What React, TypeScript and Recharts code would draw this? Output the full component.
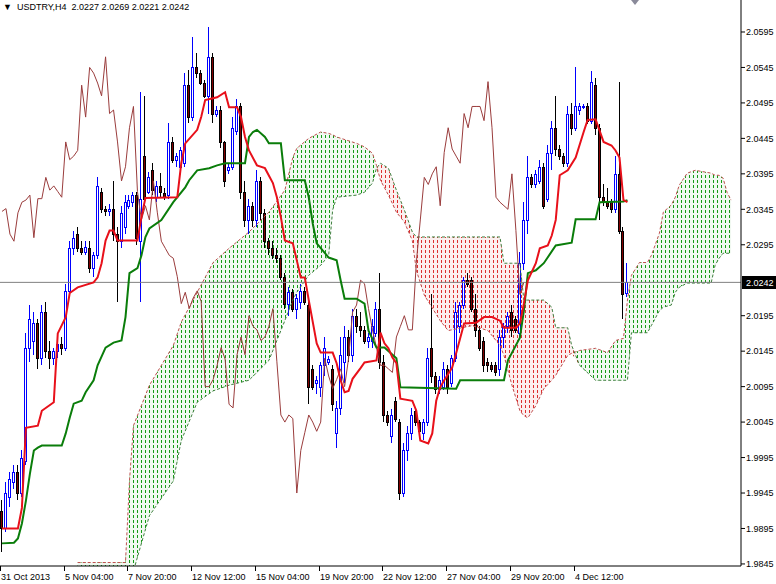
import React from 'react';
import { ComposedChart, Bar, Line, Area, XAxis, YAxis, ReferenceLine } from 'recharts';

// H4 candles, oldest first (31 Oct 2013 -> 5 Dec 2013)
const opens = [
  1.9920, 1.9895, 1.9940, 1.9960, 1.9975, 1.9945, 1.9990, 2.0150, 2.0160, 2.0185,
  2.0135, 2.0200, 2.0145, 2.0135, 2.0145, 2.0155, 2.0150, 2.0230, 2.0290, 2.0310,
  2.0290, 2.0285, 2.0290, 2.0262, 2.0280, 2.0370, 2.0345, 2.0342, 2.0346, 2.0310,
  2.0300, 2.0320, 2.0350, 2.0355, 2.0365, 2.0300, 2.0420, 2.0370, 2.0400, 2.0362,
  2.0378, 2.0368, 2.0365, 2.0440, 2.0415, 2.0405, 2.0410, 2.0520, 2.0475, 2.0545,
  2.0537, 2.0523, 2.0505, 2.0560, 2.0480, 2.0485, 2.0440, 2.0400, 2.0405, 2.0455,
  2.0490, 2.0370, 2.0330, 2.0350, 2.0330, 2.0385, 2.0340, 2.0300, 2.0290, 2.0280,
  2.0276, 2.0250, 2.0212, 2.0228, 2.0205, 2.0215, 2.0230, 2.0210, 2.0120, 2.0100,
  2.0095, 2.0125, 2.0130, 2.0120, 2.0030, 2.0065, 2.0130, 2.0165, 2.0140, 2.0195,
  2.0180, 2.0175, 2.0160, 2.0160, 2.0170, 2.0205, 2.0130, 2.0055, 2.0025, 2.0075,
  2.0045, 1.9945, 2.0005, 2.0030, 2.0060, 2.0045, 2.0030, 2.0045, 2.0150, 2.0110,
  2.0092, 2.0095, 2.0120, 2.0100, 2.0135, 2.0180, 2.0210, 2.0245, 2.0245, 2.0205,
  2.0175, 2.0160, 2.0130, 2.0125, 2.0125, 2.0120, 2.0165, 2.0180, 2.0200, 2.0190,
  2.0170, 2.0270, 2.0330, 2.0390, 2.0380, 2.0385, 2.0405, 2.0360, 2.0425, 2.0460,
  2.0430, 2.0420, 2.0410, 2.0480, 2.0460, 2.0485, 2.0490, 2.0490, 2.0470, 2.0520,
  2.0460, 2.0362, 2.0355, 2.0355, 2.0345, 2.0395, 2.0315, 2.0227,
];
const highs = [
  1.9935, 1.9960, 1.9975, 1.9985, 1.9985, 2.0005, 2.0170, 2.0210, 2.0200, 2.0190,
  2.0210, 2.0215, 2.0160, 2.0150, 2.0165, 2.0165, 2.0240, 2.0300, 2.0315, 2.0320,
  2.0300, 2.0300, 2.0300, 2.0285, 2.0390, 2.0375, 2.0350, 2.0352, 2.0385, 2.0320,
  2.0350, 2.0365, 2.0365, 2.0370, 2.0370, 2.0510, 2.0505, 2.0398, 2.0410, 2.0385,
  2.0396, 2.0375, 2.0466, 2.0447, 2.0425, 2.0433, 2.0537, 2.0541, 2.0588, 2.0565,
  2.0541, 2.0528, 2.0602, 2.0565, 2.0490, 2.0490, 2.0442, 2.0410, 2.0475, 2.0500,
  2.0495, 2.0385, 2.0360, 2.0355, 2.0400, 2.0390, 2.0345, 2.0305, 2.0300, 2.0290,
  2.0280, 2.0255, 2.0235, 2.0232, 2.0225, 2.0240, 2.0235, 2.0215, 2.0125, 2.0110,
  2.0130, 2.0165, 2.0138, 2.0125, 2.0075, 2.0165, 2.0180, 2.0175, 2.0205, 2.0205,
  2.0200, 2.0180, 2.0170, 2.0190, 2.0215, 2.0255, 2.0140, 2.0060, 2.0063, 2.0080,
  2.0050, 2.0015, 2.0040, 2.0065, 2.0065, 2.0048, 2.0050, 2.0150, 2.0225, 2.0115,
  2.0110, 2.0130, 2.0125, 2.0140, 2.0215, 2.0215, 2.0250, 2.0255, 2.0250, 2.0225,
  2.0180, 2.0165, 2.0135, 2.0130, 2.0130, 2.0175, 2.0185, 2.0200, 2.0210, 2.0195,
  2.0285, 2.0355, 2.0420, 2.0395, 2.0400, 2.0415, 2.0410, 2.0435, 2.0470, 2.0505,
  2.0435, 2.0425, 2.0490, 2.0495, 2.0545, 2.0495, 2.0493, 2.0495, 2.0540, 2.0530,
  2.0465, 2.0380, 2.0375, 2.0360, 2.0420, 2.0525, 2.0320, 2.0269,
];
const lows = [
  1.9862, 1.9890, 1.9925, 1.9950, 1.9935, 1.9940, 1.9985, 2.0130, 2.0140, 2.0120,
  2.0125, 2.0135, 2.0120, 2.0125, 2.0135, 2.0140, 2.0145, 2.0220, 2.0280, 2.0285,
  2.0280, 2.0280, 2.0255, 2.0250, 2.0275, 2.0340, 2.0335, 2.0335, 2.0300, 2.0215,
  2.0290, 2.0310, 2.0345, 2.0348, 2.0295, 2.0215, 2.0350, 2.0366, 2.0365, 2.0355,
  2.0362, 2.0358, 2.0360, 2.0410, 2.0405, 2.0400, 2.0405, 2.0466, 2.0470, 2.0530,
  2.0520, 2.0502, 2.0480, 2.0466, 2.0475, 2.0432, 2.0376, 2.0395, 2.0400, 2.0450,
  2.0360, 2.0320, 2.0310, 2.0320, 2.0320, 2.0330, 2.0290, 2.0280, 2.0275, 2.0270,
  2.0245, 2.0205, 2.0195, 2.0200, 2.0190, 2.0205, 2.0210, 2.0070, 2.0090, 2.0085,
  2.0080, 2.0110, 2.0126, 2.0060, 2.0008, 2.0055, 2.0100, 2.0130, 2.0130, 2.0170,
  2.0165, 2.0155, 2.0150, 2.0150, 2.0165, 2.0120, 2.0045, 2.0040, 2.0015, 2.0045,
  1.9935, 1.9940, 1.9990, 2.0020, 2.0040, 2.0028, 2.0020, 2.0040, 2.0100, 2.0085,
  2.0085, 2.0090, 2.0085, 2.0095, 2.0130, 2.0170, 2.0205, 2.0235, 2.0200, 2.0165,
  2.0145, 2.0115, 2.0115, 2.0115, 2.0110, 2.0110, 2.0150, 2.0170, 2.0165, 2.0170,
  2.0165, 2.0260, 2.0310, 2.0375, 2.0375, 2.0380, 2.0345, 2.0355, 2.0400, 2.0420,
  2.0415, 2.0405, 2.0405, 2.0450, 2.0455, 2.0478, 2.0487, 2.0465, 2.0465, 2.0450,
  2.0330, 2.0350, 2.0345, 2.0340, 2.0340, 2.0310, 2.0190, 2.0221,
];
const closes = [
  1.9895, 1.9945, 1.9965, 1.9975, 1.9945, 1.9995, 2.0150, 2.0190, 2.0185, 2.0135,
  2.0200, 2.0145, 2.0135, 2.0145, 2.0155, 2.0150, 2.0230, 2.0290, 2.0305, 2.0290,
  2.0285, 2.0292, 2.0262, 2.0280, 2.0378, 2.0345, 2.0342, 2.0346, 2.0310, 2.0300,
  2.0340, 2.0355, 2.0358, 2.0365, 2.0305, 2.0360, 2.0360, 2.0390, 2.0372, 2.0378,
  2.0370, 2.0362, 2.0440, 2.0415, 2.0420, 2.0428, 2.0520, 2.0475, 2.0545, 2.0537,
  2.0523, 2.0505, 2.0560, 2.0480, 2.0485, 2.0440, 2.0385, 2.0405, 2.0460, 2.0490,
  2.0370, 2.0330, 2.0350, 2.0330, 2.0385, 2.0340, 2.0300, 2.0290, 2.0280, 2.0276,
  2.0250, 2.0212, 2.0228, 2.0205, 2.0220, 2.0230, 2.0215, 2.0095, 2.0095, 2.0105,
  2.0125, 2.0150, 2.0134, 2.0070, 2.0065, 2.0140, 2.0165, 2.0140, 2.0195, 2.0180,
  2.0175, 2.0160, 2.0165, 2.0180, 2.0205, 2.0130, 2.0055, 2.0045, 2.0055, 2.0050,
  1.9945, 2.0005, 2.0030, 2.0055, 2.0045, 2.0032, 2.0045, 2.0135, 2.0110, 2.0092,
  2.0105, 2.0120, 2.0095, 2.0135, 2.0200, 2.0210, 2.0245, 2.0240, 2.0205, 2.0175,
  2.0150, 2.0125, 2.0125, 2.0120, 2.0115, 2.0165, 2.0180, 2.0195, 2.0175, 2.0175,
  2.0270, 2.0330, 2.0390, 2.0380, 2.0395, 2.0405, 2.0350, 2.0425, 2.0460, 2.0430,
  2.0420, 2.0410, 2.0480, 2.0460, 2.0490, 2.0490, 2.0490, 2.0470, 2.0525, 2.0460,
  2.0362, 2.0355, 2.0350, 2.0345, 2.0395, 2.0315, 2.0225, 2.0242,
];

// Tenkan-sen / Kijun-sen turning points: [bar, price]
const tenkan = [
  [0, 1.9895], [4, 1.9895], [5, 1.9924], [6, 2.0037], [9, 2.0040], [10, 2.0061], [13, 2.0073],
  [14, 2.0170], [16, 2.0193], [17, 2.0227], [19, 2.0235], [23, 2.0242], [24, 2.0249], [25, 2.0269],
  [26, 2.0301], [27, 2.0315], [28, 2.0315], [29, 2.0301], [34, 2.0301], [35, 2.0334], [36, 2.0361],
  [44, 2.0362], [45, 2.0410], [46, 2.0438], [49, 2.0457], [50, 2.0475], [51, 2.0499], [54, 2.0503],
  [56, 2.0510], [57, 2.0489], [59, 2.0489], [60, 2.0475], [61, 2.0447], [62, 2.0428], [64, 2.0407],
  [66, 2.0403], [68, 2.0382], [69, 2.0362], [70, 2.0334], [71, 2.0301], [73, 2.0297], [74, 2.0273],
  [75, 2.0249], [76, 2.0249], [77, 2.0217], [79, 2.0156], [80, 2.0143], [83, 2.0143], [84, 2.0128],
  [85, 2.0104], [86, 2.0087], [87, 2.0089], [88, 2.0106], [90, 2.0121], [91, 2.0129], [94, 2.0132],
  [95, 2.0171], [96, 2.0156], [97, 2.0149], [98, 2.0136], [99, 2.0128], [100, 2.0078], [103, 2.0075],
  [104, 2.0061], [105, 2.0019], [107, 2.0015], [108, 2.0029], [109, 2.0075], [110, 2.0094],
  [111, 2.0104], [113, 2.0122], [114, 2.0142], [116, 2.0184], [119, 2.0185], [121, 2.0193],
  [123, 2.0193], [125, 2.0188], [126, 2.0178], [129, 2.0178], [130, 2.0184], [131, 2.0212],
  [132, 2.0245], [134, 2.0269], [135, 2.0290], [137, 2.0294], [138, 2.0308], [139, 2.0330],
  [140, 2.0393], [142, 2.0400], [144, 2.0418], [146, 2.0454], [147, 2.0471], [149, 2.0472],
  [151, 2.0440], [153, 2.0435], [154, 2.0428], [155, 2.0418], [156, 2.0358], [157, 2.0355],
];
const kijun = [
  [0, 1.9874], [3, 1.9875], [4, 1.9881], [5, 1.9902], [6, 1.9934], [7, 1.9972], [8, 2.0005],
  [9, 2.0009], [10, 2.0012], [15, 2.0012], [16, 2.0029], [17, 2.0051], [18, 2.0071], [20, 2.0075],
  [21, 2.0087], [23, 2.0104], [24, 2.0125], [26, 2.0150], [28, 2.0157], [30, 2.0160], [31, 2.0193],
  [32, 2.0255], [34, 2.0262], [35, 2.0280], [36, 2.0306], [37, 2.0318], [40, 2.0330], [43, 2.0355],
  [46, 2.0376], [47, 2.0386], [49, 2.0400], [52, 2.0403], [54, 2.0407], [56, 2.0410], [61, 2.0410],
  [62, 2.0447], [63, 2.0454], [64, 2.0457], [66, 2.0447], [67, 2.0438], [70, 2.0438], [71, 2.0386],
  [76, 2.0386], [77, 2.0362], [78, 2.0325], [79, 2.0297], [82, 2.0277], [84, 2.0273], [85, 2.0245],
  [86, 2.0219], [89, 2.0219], [91, 2.0212], [92, 2.0174], [94, 2.0150], [96, 2.0150], [99, 2.0135],
  [100, 2.0094], [114, 2.0092], [115, 2.0104], [126, 2.0104], [127, 2.0132], [130, 2.0164],
  [131, 2.0202], [132, 2.0255], [134, 2.0259], [136, 2.0269], [139, 2.0294], [143, 2.0298],
  [144, 2.0331], [149, 2.0331], [150, 2.0355], [156, 2.0356], [157, 2.0358],
];

// Senkou span A / B (already shifted 26 bars forward): [bar, spanA, spanB]
const kumo = [
  [19, 1.9847, 1.9793], [31, 1.9847, 1.9793], [32, 1.9962, 1.9807], [33, 2.0040, 1.9835],
  [37, 2.0097, 1.9913], [43, 2.0153, 1.9962], [45, 2.0186, 2.0019], [49, 2.0228, 2.0073],
  [53, 2.0270, 2.0089], [57, 2.0290, 2.0097], [62, 2.0313, 2.0104], [67, 2.0341, 2.0132],
  [71, 2.0372, 2.0188], [73, 2.0418, 2.0217], [74, 2.0431, 2.0228], [77, 2.0445, 2.0252],
  [80, 2.0454, 2.0266], [82, 2.0452, 2.0280], [83, 2.0450, 2.0344], [84, 2.0447, 2.0362],
  [89, 2.0438, 2.0365], [91, 2.0433, 2.0369], [93, 2.0424, 2.0382], [94, 2.0407, 2.0403],
  [95, 2.0386, 2.0410], [97, 2.0365, 2.0403], [99, 2.0341, 2.0372], [101, 2.0327, 2.0344],
  [103, 2.0301, 2.0313], [104, 2.0259, 2.0306], [106, 2.0224, 2.0306], [110, 2.0188, 2.0306],
  [112, 2.0174, 2.0306], [118, 2.0181, 2.0306], [122, 2.0174, 2.0306], [125, 2.0153, 2.0306],
  [126, 2.0139, 2.0269], [128, 2.0097, 2.0269], [130, 2.0061, 2.0269], [131, 2.0054, 2.0217],
  [132, 2.0051, 2.0217], [134, 2.0068, 2.0217], [136, 2.0092, 2.0217], [138, 2.0104, 2.0207],
  [139, 2.0111, 2.0178], [142, 2.0139, 2.0178], [143, 2.0142, 2.0153], [145, 2.0146, 2.0125],
  [149, 2.0149, 2.0104], [152, 2.0143, 2.0104], [154, 2.0160, 2.0104], [156, 2.0163, 2.0104],
  [157, 2.0217, 2.0104], [158, 2.0252, 2.0171], [160, 2.0270, 2.0171], [162, 2.0270, 2.0171],
  [163, 2.0280, 2.0181], [165, 2.0311, 2.0202], [166, 2.0341, 2.0207], [168, 2.0351, 2.0210],
  [169, 2.0362, 2.0228], [170, 2.0379, 2.0235], [172, 2.0396, 2.0241], [174, 2.0400, 2.0241],
  [178, 2.0396, 2.0241], [179, 2.0393, 2.0266], [180, 2.0393, 2.0276], [181, 2.0389, 2.0283],
  [182, 2.0369, 2.0283], [183, 2.0358, 2.0283],
];

const timeLabels = [
  '31 Oct 2013', '5 Nov 04:00', '7 Nov 20:00', '12 Nov 12:00', '15 Nov 04:00',
  '19 Nov 20:00', '22 Nov 12:00', '27 Nov 04:00', '29 Nov 20:00', '4 Dec 12:00',
];
const priceTicks = [
  2.0595, 2.0545, 2.0495, 2.0445, 2.0395, 2.0345, 2.0295, 2.0195,
  2.0145, 2.0095, 2.0045, 1.9995, 1.9945, 1.9895, 1.9845,
];
const lastPrice = 2.0242;
const chikouShift = 26;
const totalBars = 186;

const data = Array.from({ length: totalBars }, (_, i) => {
  const row: any = { idx: i };
  if (i < closes.length) {
    row.o = opens[i];
    row.h = highs[i];
    row.l = lows[i];
    row.c = closes[i];
    row.candle = [lows[i], highs[i]];
  }
  if (i + chikouShift < closes.length) row.chikou = closes[i + chikouShift];
  return row;
});
tenkan.forEach(([b, v]) => { data[b].tenkan = v; });
kijun.forEach(([b, v]) => { data[b].kijun = v; });
kumo.forEach(([b, a, s]) => {
  const lo = Math.min(a, s);
  data[b].spanA = a;
  data[b].spanB = s;
  data[b].green = [lo, a];
  data[b].red = [lo, s];
});

const font = '"Liberation Sans", Arial, sans-serif';

const Candle = (props: any) => {
  const { x, y, width, height, payload } = props;
  if (!payload || payload.o == null) return null;
  const { o, h, l, c } = payload;
  const top = Math.min(y, y + height);
  const bottom = Math.max(y, y + height);
  const span = h - l || 1;
  const yOf = (v: number) => Math.round(top + ((h - v) / span) * (bottom - top));
  const cx = Math.floor(x + width / 2);
  const up = c >= o;
  const bTop = yOf(Math.max(o, c));
  const bBot = Math.max(yOf(Math.min(o, c)), bTop + 1);
  return (
    <g>
      <line x1={cx + 0.5} x2={cx + 0.5} y1={Math.round(top)} y2={Math.round(bottom)} stroke={up ? '#0000ff' : '#000000'} strokeWidth={1} />
      <rect x={cx - 0.5} y={bTop + 0.5} width={2} height={bBot - bTop} fill={up ? '#ffffff' : '#800000'} stroke={up ? '#0000ff' : '#000000'} strokeWidth={1} />
    </g>
  );
};

const TimeTick = (props: any) => {
  const { x, payload } = props;
  const label = timeLabels[Math.round(payload.value / 16)];
  if (!label) return null;
  const tx = Math.round(x - 2);
  return (
    <g>
      <line x1={tx + 0.5} x2={tx + 0.5} y1={566} y2={571} stroke="#000" />
      <text x={tx + 1} y={580} fontSize={9} fontFamily={font} fill="#000" textAnchor="start">{label}</text>
    </g>
  );
};

const PriceBox = (props: any) => {
  const { viewBox } = props;
  const yy = Math.round(viewBox.y);
  const x0 = viewBox.x + viewBox.width + 1;
  return (
    <g>
      <rect x={x0} y={yy - 6} width={35} height={13} fill="#000" />
      <text x={x0 + 4} y={yy + 4} fontSize={9} fontFamily={font} fill="#fff">{lastPrice.toFixed(4)}</text>
    </g>
  );
};

export default function App() {
  return (
    <div style={{ position: 'absolute', left: 0, top: 0, width: 776, height: 584, background: '#fff', overflow: 'hidden' }}>
      <ComposedChart width={776} height={584} data={data} margin={{ top: 0, right: 0, bottom: 0, left: 0 }} barCategoryGap={0}>
        <defs>
          <pattern id="kumoUp" x="0" y="0" width="4" height="5" patternUnits="userSpaceOnUse">
            <rect x="0" y="0" width="4" height="5" fill="#f1f9f1" />
            <rect x="1" y="0" width="1" height="3" fill="#159a15" />
          </pattern>
          <pattern id="kumoDown" x="0" y="0" width="4" height="5" patternUnits="userSpaceOnUse">
            <rect x="0" y="0" width="4" height="5" fill="#fcefef" />
            <rect x="1" y="0" width="1" height="3" fill="#dc3030" />
          </pattern>
        </defs>
        <XAxis
          dataKey="idx"
          type="category"
          interval={15}
          height={18}
          tickLine={false}
          axisLine={{ stroke: '#000' }}
          tick={<TimeTick />}
        />
        <YAxis
          orientation="right"
          domain={[1.98421, 2.06401]}
          allowDataOverflow
          ticks={priceTicks}
          width={35}
          tickSize={4}
          tickMargin={1}
          tickFormatter={(v: number) => v.toFixed(4)}
          tick={{ fontSize: 9, fontFamily: font, fill: '#000' }}
          axisLine={{ stroke: '#000' }}
          tickLine={{ stroke: '#000' }}
        />
        <Area dataKey="green" type="linear" stroke="none" fill="url(#kumoUp)" fillOpacity={1} connectNulls isAnimationActive={false} />
        <Area dataKey="red" type="linear" stroke="none" fill="url(#kumoDown)" fillOpacity={1} connectNulls isAnimationActive={false} />
        <Line dataKey="spanA" type="linear" stroke="#c05050" strokeWidth={1} strokeDasharray="3 2" dot={false} activeDot={false} connectNulls isAnimationActive={false} />
        <Line dataKey="spanB" type="linear" stroke="#3f7f3f" strokeWidth={1} strokeDasharray="3 2" dot={false} activeDot={false} connectNulls isAnimationActive={false} />
        <Line dataKey="chikou" type="linear" stroke="#9a3c3c" strokeWidth={1} dot={false} activeDot={false} isAnimationActive={false} />
        <ReferenceLine y={lastPrice} stroke="#808080" strokeWidth={1} label={<PriceBox />} />
        <Bar dataKey="candle" barSize={3} shape={<Candle />} isAnimationActive={false} />
        <Line dataKey="kijun" type="linear" stroke="#0a7d0a" strokeWidth={2} dot={false} activeDot={false} connectNulls isAnimationActive={false} />
        <Line dataKey="tenkan" type="linear" stroke="#e8101a" strokeWidth={2} dot={false} activeDot={false} connectNulls isAnimationActive={false} />
      </ComposedChart>
      <div style={{ position: 'absolute', left: 3, top: 2, fontFamily: font, fontSize: 9, color: '#000', whiteSpace: 'pre' }}>
        {'▼  USDTRY,H4  2.0227 2.0269 2.0221 2.0242'}
      </div>
      <div style={{ position: 'absolute', left: 631, top: 0, width: 0, height: 0, borderLeft: '4px solid transparent', borderRight: '4px solid transparent', borderTop: '5px solid #8a8a9a' }} />
    </div>
  );
}
